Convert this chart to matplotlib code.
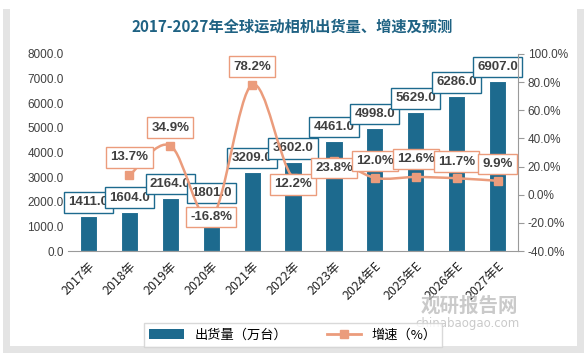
import matplotlib
matplotlib.use("Agg")
import matplotlib.pyplot as plt
from matplotlib.patches import Rectangle, Patch
from matplotlib.lines import Line2D
from matplotlib.path import Path
from matplotlib.patches import PathPatch

plt.rcParams['font.family'] = ['Noto Sans CJK SC', 'DejaVu Sans']
plt.rcParams['hatch.color'] = '#cfcfcf'
plt.rcParams['hatch.linewidth'] = 0.6

years = ["2017年", "2018年", "2019年", "2020年", "2021年", "2022年", "2023年",
         "2024年E", "2025年E", "2026年E", "2027年E"]
shipments = [1411.0, 1604.0, 2164.0, 1801.0, 3209.0, 3602.0, 4461.0,
             4998.0, 5629.0, 6286.0, 6907.0]
growth = [None, 13.7, 34.9, -16.8, 78.2, 12.2, 23.8, 12.0, 12.6, 11.7, 9.9]

# label offsets for growth labels (points, y)
growth_off = [0, 13, 13, 1, 13, -5, -5, 12, 13, 12, 12]

blue = '#1d6a8e'
orange = '#eb9c7c'
txt = '#404040'

fig = plt.figure(figsize=(5.85, 3.54), dpi=100)
W, H = 585, 354
# card with shadow
fig.patches.append(Rectangle((3 / W, 1 - 353 / H), 581 / W, 344 / H, transform=fig.transFigure,
                             fc='#e4e4e4', ec='none', zorder=-10))
fig.patches.append(Rectangle((10 / W, 1 - 346 / H), 567 / W, 339 / H, transform=fig.transFigure,
                             fc='white', ec='none', zorder=-9))

ax = fig.add_axes([68 / W, 103 / H, 450 / W, 197 / H])
ax.patch.set_alpha(0)
x = list(range(len(years)))

bg = Rectangle((0, 0), 1, 1, transform=ax.transAxes, fc='white', ec='none',
               hatch='\\\\\\\\', zorder=0)
ax.add_patch(bg)

bars = ax.bar(x, shipments, width=0.42, color=blue, edgecolor='white', linewidth=0.8, zorder=2)
ax.set_xlim(-0.5, len(years) - 0.5)
ax.set_ylim(0, 8000)
ax.set_yticks(range(0, 8001, 1000))
ax.set_yticklabels([f"{v:.1f}" for v in range(0, 8001, 1000)], fontsize=8.5,
                   family='Liberation Sans', color=txt)
ax.set_xticks(x)
ax.set_xticklabels(years, rotation=45, ha='right', rotation_mode='anchor', fontsize=9,
                   color='#222222')
ax.tick_params(axis='both', length=0, pad=3)
ax.tick_params(axis='x', pad=6)
for s in ['top', 'right', 'left']:
    ax.spines[s].set_visible(False)
ax.spines['bottom'].set_color('#9a9a9a')
ax.spines['bottom'].set_zorder(5)

ax2 = ax.twinx()
ax2.set_ylim(-40, 100)
ax2.set_yticks(range(-40, 101, 20))
ax2.set_yticklabels([f"{v:.1f}%" for v in range(-40, 101, 20)], fontsize=8.5,
                    family='Liberation Sans', color=txt)
for s in ['top', 'left', 'bottom']:
    ax2.spines[s].set_visible(False)
ax2.spines['right'].set_color('#9a9a9a')
ax2.tick_params(axis='y', length=4, color='#9a9a9a', pad=3)

# smoothed growth line (bezier through data points)
pts = [(i, g) for i, g in zip(x, growth) if g is not None]
verts = [pts[0]]
codes = [Path.MOVETO]
for i in range(len(pts) - 1):
    p0 = pts[i - 1] if i > 0 else pts[i]
    p1 = pts[i]
    p2 = pts[i + 1]
    p3 = pts[i + 2] if i + 2 < len(pts) else pts[i + 1]
    c1 = (p1[0] + (p2[0] - p0[0]) / 6, p1[1] + (p2[1] - p0[1]) / 6)
    c2 = (p2[0] - (p3[0] - p1[0]) / 6, p2[1] - (p3[1] - p1[1]) / 6)
    verts += [c1, c2, p2]
    codes += [Path.CURVE4] * 3
ax2.add_patch(PathPatch(Path(verts, codes), fc='none', ec=orange, lw=1.8, zorder=3))
ax2.plot([p[0] for p in pts], [p[1] for p in pts], ls='none', marker='s', ms=5.5,
         color=orange, zorder=4)

for i, v in enumerate(shipments):
    ax.annotate(f"{v:.1f}", (i, v), xytext=(0, 10), textcoords='offset points',
                ha='center', va='center', fontsize=9.5, fontweight='bold', color=txt,
                family='Liberation Sans', zorder=6,
                bbox=dict(boxstyle='square,pad=0.32', fc='white', ec=blue, lw=1))

for i, g in enumerate(growth):
    if g is None:
        continue
    ax2.annotate(f"{g:.1f}%", (i, g), xytext=(0, growth_off[i]), textcoords='offset points',
                 ha='center', va='center', fontsize=9.5, fontweight='bold', color=txt,
                 family='Liberation Sans', zorder=7,
                 bbox=dict(boxstyle='square,pad=0.32', fc='white', ec=orange, lw=1))

fig.text(0.5, 1 - 27 / H, "2017-2027年全球运动相机出货量、增速及预测", ha='center', va='center',
         fontsize=11, fontweight='bold', color='#1f6283')

# watermark
fig.text(469 / W, 1 - 306 / H, "观研报告网", ha='center', va='center', fontsize=14,
         fontweight='bold', color='#bdbdbd', alpha=0.8)
fig.text(468 / W, 1 - 324 / H, "chinabaogao.com", ha='center', va='center', fontsize=8.5,
         color='#bdbdbd', alpha=0.8, family='DejaVu Sans')

handles = [Patch(fc=blue, ec='none'),
           Line2D([], [], color=orange, lw=2, marker='s', ms=6)]
fig.legend(handles, ["出货量（万台）", "增速（%）"], loc='center', bbox_to_anchor=(293 / W, 1 - 335 / H),
           ncol=2, fontsize=9.5, frameon=True, fancybox=False, edgecolor='#d0d0d0',
           handlelength=2.6, columnspacing=3, borderpad=0.4)

fig.savefig("out.png", dpi=100)
